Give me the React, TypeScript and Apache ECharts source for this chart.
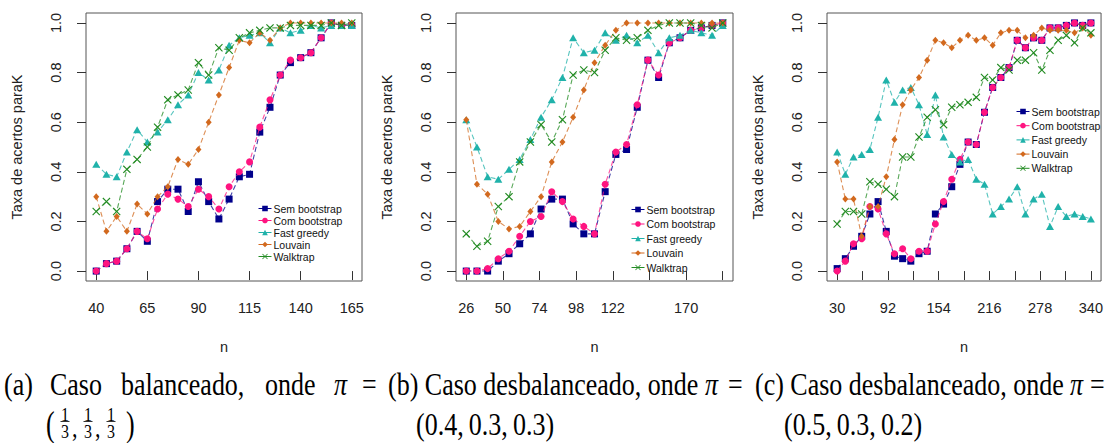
import React, { useEffect, useRef } from "react";
import * as echarts from "echarts";

// ---------- data ----------
const nA = [40, 45, 50, 55, 60, 65, 70, 75, 80, 85, 90, 95, 100, 105, 110, 115, 120, 125, 130, 135, 140, 145, 150, 155, 160, 165];
const semA = [0.00, 0.03, 0.04, 0.09, 0.16, 0.12, 0.28, 0.33, 0.33, 0.24, 0.36, 0.28, 0.21, 0.29, 0.38, 0.39, 0.56, 0.66, 0.79, 0.84, 0.86, 0.88, 0.94, 1.00, 0.99, 0.99];
const comA = [0.00, 0.03, 0.04, 0.09, 0.16, 0.13, 0.25, 0.31, 0.29, 0.26, 0.33, 0.30, 0.25, 0.34, 0.40, 0.44, 0.58, 0.69, 0.79, 0.85, 0.86, 0.88, 0.94, 1.00, 0.99, 0.99];
const fgA = [0.43, 0.39, 0.38, 0.48, 0.57, 0.52, 0.56, 0.61, 0.67, 0.71, 0.80, 0.77, 0.81, 0.91, 0.94, 0.95, 0.96, 0.92, 0.98, 0.96, 0.97, 0.99, 0.98, 0.99, 0.99, 0.99];
const louA = [0.30, 0.16, 0.22, 0.16, 0.27, 0.23, 0.30, 0.34, 0.45, 0.43, 0.49, 0.60, 0.71, 0.82, 0.93, 0.92, 0.96, 0.93, 0.98, 1.00, 1.00, 1.00, 1.00, 1.00, 1.00, 1.00];
const wtA = [0.24, 0.28, 0.24, 0.41, 0.45, 0.50, 0.58, 0.69, 0.71, 0.73, 0.84, 0.79, 0.90, 0.89, 0.94, 0.96, 0.97, 0.98, 0.98, 0.99, 0.99, 0.99, 0.99, 1.00, 0.99, 1.00];

const nB = [26, 33, 40, 47, 54, 61, 68, 75, 82, 89, 96, 103, 110, 117, 124, 131, 138, 145, 152, 159, 166, 173, 180, 187, 194];
const semB = [0.00, 0.00, 0.00, 0.04, 0.07, 0.11, 0.15, 0.25, 0.29, 0.29, 0.19, 0.15, 0.15, 0.32, 0.47, 0.49, 0.66, 0.85, 0.78, 0.92, 0.94, 0.97, 0.98, 0.99, 1.00];
const comB = [0.00, 0.00, 0.01, 0.05, 0.08, 0.14, 0.20, 0.22, 0.32, 0.28, 0.21, 0.18, 0.15, 0.35, 0.48, 0.51, 0.67, 0.85, 0.79, 0.92, 0.94, 0.97, 0.98, 0.99, 1.00];
const fgB = [0.61, 0.50, 0.38, 0.37, 0.41, 0.45, 0.53, 0.62, 0.69, 0.78, 0.94, 0.88, 0.89, 0.96, 0.93, 0.95, 0.92, 0.95, 0.88, 0.94, 0.95, 0.97, 0.96, 0.95, 0.99];
const louB = [0.61, 0.35, 0.31, 0.20, 0.17, 0.18, 0.24, 0.30, 0.44, 0.52, 0.62, 0.73, 0.84, 0.91, 0.97, 1.00, 1.00, 1.00, 1.00, 1.00, 1.00, 1.00, 1.00, 1.00, 1.00];
const wtB = [0.15, 0.10, 0.12, 0.26, 0.30, 0.44, 0.52, 0.59, 0.52, 0.61, 0.79, 0.81, 0.80, 0.89, 0.94, 0.93, 0.94, 0.97, 0.99, 1.00, 1.00, 1.00, 0.99, 0.98, 1.00];

const nC = [30, 40, 50, 60, 70, 80, 90, 100, 110, 120, 130, 140, 150, 160, 170, 180, 190, 200, 210, 220, 230, 240, 250, 260, 270, 280, 290, 300, 310, 320, 330, 340];
const semC = [0.01, 0.05, 0.10, 0.14, 0.23, 0.28, 0.16, 0.06, 0.05, 0.04, 0.07, 0.08, 0.23, 0.27, 0.34, 0.43, 0.52, 0.51, 0.64, 0.74, 0.78, 0.82, 0.93, 0.90, 0.94, 0.93, 0.98, 0.98, 0.99, 1.00, 0.99, 1.00];
const comC = [0.00, 0.04, 0.11, 0.13, 0.26, 0.25, 0.15, 0.07, 0.09, 0.05, 0.08, 0.08, 0.19, 0.28, 0.37, 0.45, 0.52, 0.51, 0.64, 0.74, 0.78, 0.82, 0.93, 0.90, 0.94, 0.93, 0.98, 0.98, 0.99, 1.00, 0.99, 1.00];
const fgC = [0.48, 0.39, 0.46, 0.47, 0.49, 0.62, 0.77, 0.68, 0.73, 0.74, 0.67, 0.55, 0.71, 0.54, 0.47, 0.44, 0.45, 0.37, 0.35, 0.23, 0.26, 0.29, 0.34, 0.23, 0.29, 0.31, 0.18, 0.26, 0.22, 0.23, 0.22, 0.21];
const louC = [0.44, 0.29, 0.29, 0.14, 0.26, 0.26, 0.38, 0.53, 0.67, 0.73, 0.78, 0.85, 0.93, 0.92, 0.90, 0.93, 0.95, 0.93, 0.94, 0.91, 0.96, 0.97, 0.97, 0.94, 0.95, 0.98, 0.97, 0.97, 0.97, 0.96, 0.98, 0.95];
const wtC = [0.19, 0.24, 0.24, 0.23, 0.36, 0.35, 0.33, 0.30, 0.46, 0.46, 0.54, 0.62, 0.65, 0.59, 0.66, 0.67, 0.68, 0.70, 0.78, 0.77, 0.82, 0.81, 0.85, 0.85, 0.88, 0.81, 0.89, 0.93, 0.95, 0.92, 0.98, 0.96];

const seriesNames = ["Sem bootstrap", "Com bootstrap", "Fast greedy", "Louvain", "Walktrap"];

const xTicksA = [40, 65, 90, 115, 140, 165];
const xLabelsA = [40, 65, 90, 115, 140, 165];
const xTicksB = [26, 50, 74, 98, 122, 146, 170, 194];
const xLabelsB = [26, 50, 74, 98, 122, 170];
const xTicksC = [30, 61, 92, 123, 154, 185, 216, 247, 278, 309, 340];
const xLabelsC = [30, 92, 154, 216, 278, 340];
const yTicks = [0, 0.2, 0.4, 0.6, 0.8, 1.0];

const yTitle = "Taxa de acertos paraK";
const xTitle = "n";

// ---------- styles ----------
const colors = ["#00008B", "#FF1480", "#20B2AA", "#D2691E", "#228B22"];
const XSYM = "path://M0,1L1,0L5,4L9,0L10,1L6,5L10,9L9,10L5,6L1,10L0,9L4,5Z";
const symbols = ["rect", "circle", "triangle", "diamond", XSYM];
const symbolSizes: any[] = [7, 7, [8, 7], [6, 7], 8];
const sans = "'Liberation Sans', Arial, sans-serif";
const serif = "'Liberation Serif', 'Times New Roman', serif";

const panels = [
  { n: nA, ys: [semA, comA, fgA, louA, wtA], ticks: xTicksA, labels: xLabelsA, min: 35, max: 170, left: 86, width: 276,
    legend: { left: 258, top: 203, gap: 1 } },
  { n: nB, ys: [semB, comB, fgB, louB, wtB], ticks: xTicksB, labels: xLabelsB, min: 19.28, max: 200.72, left: 456, width: 277,
    legend: { left: 631, top: 204, gap: 3.5 } },
  { n: nC, ys: [semC, comC, fgC, louC, wtC], ticks: xTicksC, labels: xLabelsC, min: 17.6, max: 352.4, left: 827, width: 276,
    legend: { left: 1016, top: 106, gap: 3.2 } },
];

function buildOption() {
  const grid: any[] = [];
  const xAxis: any[] = [];
  const yAxis: any[] = [];
  const series: any[] = [];
  const legend: any[] = [];

  panels.forEach((p, pi) => {
    grid.push({
      left: p.left, top: 13, width: p.width, height: 268,
      show: true, borderColor: "#555", borderWidth: 1, backgroundColor: "transparent",
    });
    xAxis.push({
      type: "value", gridIndex: pi, min: p.min, max: p.max,
      name: xTitle, nameLocation: "middle", nameGap: 58,
      nameTextStyle: { fontFamily: sans, fontSize: 14.5, color: "#222" },
      axisLine: { show: false },
      splitLine: { show: false },
      axisTick: { show: true, length: 9, lineStyle: { color: "#333" }, customValues: p.ticks },
      axisLabel: { fontFamily: sans, fontSize: 14.5, color: "#222", margin: 19, customValues: p.labels, showMinLabel: true, showMaxLabel: true },
    });
    yAxis.push({
      type: "value", gridIndex: pi, min: -0.04, max: 1.04,
      name: yTitle, nameLocation: "middle", nameGap: 62, nameRotate: 90,
      nameTextStyle: { fontFamily: sans, fontSize: 14.5, color: "#222" },
      axisLine: { show: false },
      splitLine: { show: false },
      axisTick: { show: true, length: 9, lineStyle: { color: "#333" }, customValues: yTicks },
      axisLabel: {
        fontFamily: sans, fontSize: 14.5, color: "#222", margin: 23, rotate: 90,
        customValues: yTicks, formatter: (v: number) => v.toFixed(1),
      },
    });
    seriesNames.forEach((name, si) => {
      series.push({
        type: "line", name, xAxisIndex: pi, yAxisIndex: pi,
        data: p.n.map((x, i) => [x, p.ys[si][i]]),
        symbol: symbols[si], symbolSize: symbolSizes[si], showSymbol: true,
        itemStyle: { color: colors[si] },
        lineStyle: { color: colors[si], width: 1.1, type: [5, 3], opacity: 0.75 },
        z: 2 + si,
      });
    });
    legend.push({
      data: seriesNames, orient: "vertical", left: p.legend.left, top: p.legend.top,
      itemWidth: 13, itemHeight: 7, itemGap: p.legend.gap, padding: 0,
      lineStyle: { type: "solid", opacity: 1, width: 1 },
      textStyle: { fontFamily: sans, fontSize: 10.5, color: "#111", padding: [0, 0, 0, -3] },
      selectedMode: false,
    });
  });

  const capStyle = (text: string, extra: any = {}) => ({
    text, fontFamily: serif, fontSize: 26, fill: "#000", verticalAlign: "middle", align: "left", ...extra,
  });
  const l1y = 384;
  const l2y = 424;
  const sy = 1.2;
  const graphic: any[] = [
    // (a) justified line
    { type: "text", x: 4, y: l1y, scaleY: sy, style: capStyle("(a)") },
    { type: "text", x: 50, y: l1y, scaleY: sy, style: capStyle("Caso") },
    { type: "text", x: 121, y: l1y, scaleY: sy, style: capStyle("balanceado,") },
    { type: "text", x: 265, y: l1y, scaleY: sy, style: capStyle("onde") },
    { type: "text", x: 334, y: l1y, scaleY: sy, style: capStyle("π", { fontStyle: "italic" }) },
    { type: "text", x: 362, y: l1y, scaleY: sy, style: capStyle("=") },
    // (b)
    { type: "text", x: 388, y: l1y, scaleY: sy, style: capStyle("(b) Caso desbalanceado, onde") },
    { type: "text", x: 705, y: l1y, scaleY: sy, style: capStyle("π", { fontStyle: "italic" }) },
    { type: "text", x: 728, y: l1y, scaleY: sy, style: capStyle("=") },
    // (c)
    { type: "text", x: 755, y: l1y, scaleY: sy, style: capStyle("(c) Caso desbalanceado, onde") },
    { type: "text", x: 1070, y: l1y, scaleY: sy, style: capStyle("π", { fontStyle: "italic" }) },
    { type: "text", x: 1090, y: l1y, scaleY: sy, style: capStyle("=") },
    // line 2
    { type: "text", x: 416, y: l2y, scaleY: sy, style: capStyle("(0.4,\u20090.3,\u20090.3)") },
    { type: "text", x: 784, y: l2y, scaleY: sy, style: capStyle("(0.5,\u20090.3,\u20090.2)") },
    { type: "text", x: 46, y: l2y, scaleY: 1.35, style: capStyle("(") },
    { type: "text", x: 126, y: l2y, scaleY: 1.35, style: capStyle(")") },
  ];
  [65, 88, 111].forEach((cx, i) => {
    graphic.push({ type: "text", x: cx, y: l2y - 10, scaleY: sy, style: capStyle("1", { fontSize: 16, align: "center" }) });
    graphic.push({ type: "line", shape: { x1: cx - 4.5, y1: l2y - 2.5, x2: cx + 4.5, y2: l2y - 2.5 }, style: { stroke: "#000", lineWidth: 0.8 } });
    graphic.push({ type: "text", x: cx, y: l2y + 7, scaleY: sy, style: capStyle("3", { fontSize: 16, align: "center" }) });
    if (i < 2) graphic.push({ type: "text", x: cx + 7, y: l2y + 4, scaleY: sy, style: capStyle(",", { fontSize: 22 }) });
  });

  return {
    animation: false,
    backgroundColor: "#ffffff",
    grid, xAxis, yAxis, series, legend, graphic,
  };
}

export default function App() {
  const ref = useRef<HTMLDivElement>(null);
  useEffect(() => {
    if (!ref.current) return;
    const chart = echarts.init(ref.current, undefined, { renderer: "svg" });
    chart.setOption(buildOption() as any);
    return () => chart.dispose();
  }, []);
  return (
    <div
      ref={ref}
      style={{ position: "fixed", left: 0, top: 0, width: 1106, height: 443, background: "#fff" }}
    />
  );
}
